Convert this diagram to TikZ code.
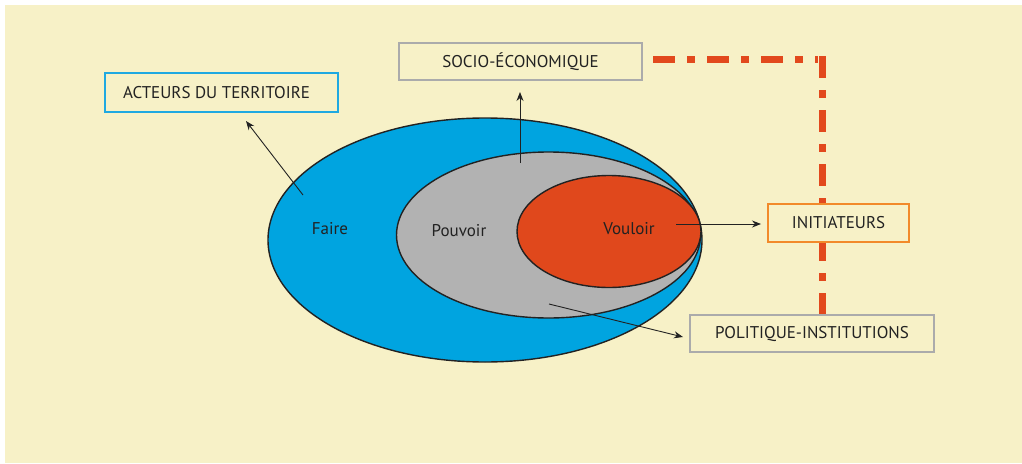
\documentclass[tikz,border=0pt]{standalone}
\usepackage{fontspec}
\setmainfont{PT Sans}
\usetikzlibrary{arrows.meta,shapes.geometric,calc}
\definecolor{cream}{HTML}{F7F1C7}
\definecolor{bluef}{HTML}{00A4E0}
\definecolor{grayf}{HTML}{B2B2B2}
\definecolor{redf}{HTML}{E0481C}
\definecolor{orangeb}{HTML}{F28A2A}
\definecolor{grayb}{HTML}{ABABAB}
\definecolor{blueb}{HTML}{1FA9E1}
\definecolor{txt}{HTML}{222222}
\definecolor{dashc}{HTML}{E2491D}
\begin{document}
\begin{tikzpicture}[x=1pt,y=-1pt,
  zone/.style={ellipse,draw=txt,line width=1.4pt,inner sep=0pt},
  lbl/.style={text=txt,font=\fontsize{17}{19}\selectfont},
  box/.style={rectangle,fill=cream,line width=2.2pt,inner sep=0pt,text=txt,font=\fontsize{17}{19}\selectfont},
  arr/.style={draw=txt,line width=0.9pt,-{Stealth[length=9pt,width=7pt]}},
  link/.style={draw=dashc,line width=7pt,dash pattern=on 22pt off 12pt on 8pt off 12pt}]
\useasboundingbox (0,0) rectangle (1022,463);
\fill[white] (0,0) rectangle (1022,463);
\fill[cream] (5,5) rectangle (1022,463);
% zones
\node[zone,fill=bluef,minimum width=434pt,minimum height=244pt] (faire) at (485,240) {};
\node[zone,fill=grayf,minimum width=304pt,minimum height=166pt] (pouvoir) at (548.5,235) {};
\node[zone,fill=redf,minimum width=184pt,minimum height=112pt] (vouloir) at (609,231.5) {};
\node[lbl] (tfaire) at (330,229) {Faire};
\node[lbl] (tpouvoir) at (459,231) {Pouvoir};
\node[lbl] (tvouloir) at (629,229) {Vouloir};
% boxes
\node[box,draw=grayb,minimum width=243pt,minimum height=37pt] (socio) at (520.5,61.5) {SOCIO-ÉCONOMIQUE};
\node[box,draw=blueb,minimum width=233pt,minimum height=39pt] (acteurs) at (221.5,92.5) {\hspace*{-10pt}ACTEURS DU TERRITOIRE};
\node[box,draw=orangeb,minimum width=141pt,minimum height=38pt] (init) at (838.5,223) {INITIATEURS};
\node[box,draw=grayb,minimum width=244pt,minimum height=37pt] (poli) at (812,333.5) {POLITIQUE-INSTITUTIONS};
% arrows
\coordinate (sa) at (303,195);
\coordinate (sb) at (520,163);
\coordinate (sc) at (676,224);
\coordinate (sd) at (549,304);
\coordinate (ea) at (246,121);
\coordinate (eb) at (520,92);
\coordinate (ec) at (761,224);
\coordinate (ed) at (683,337);
\draw[arr] (sa) -- (ea);
\draw[arr] (sb) -- (eb);
\draw[arr] (sc) -- (ec);
\draw[arr] (sd) -- (ed);
% dashed link
\coordinate (h0) at ($(socio.east)+(10,-2)$);
\coordinate (h1) at (818,59.5);
\coordinate (v0) at (822,56);
\draw[link] (h0) -- (h1);
\draw[link] (v0) -- (v0 |- init.north);
\draw[link,dash phase=4pt] (init.south -| v0) -- (poli.north -| v0);
\end{tikzpicture}
\end{document}
